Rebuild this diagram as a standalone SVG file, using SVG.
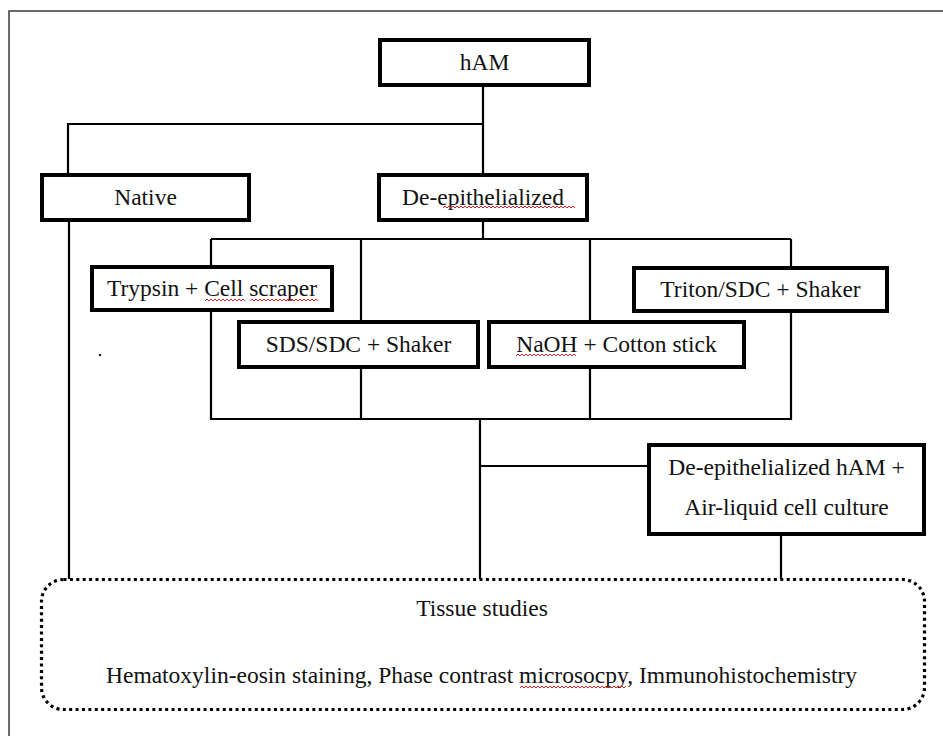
<svg xmlns="http://www.w3.org/2000/svg" width="943" height="736" viewBox="0 0 943 736">
<style>
.frame{fill:none;stroke:#3a3a3a;stroke-width:1.5}
.conn{fill:none;stroke:#000;stroke-width:2.2}
.box{fill:#fff;stroke:#000;stroke-width:4}
.dotted{fill:#fff;stroke:#000;stroke-width:3.2;stroke-dasharray:3 3.4}
.t{font-family:"Liberation Serif","Times New Roman",serif;font-size:23.5px;fill:#111;text-anchor:middle}
.sq{fill:none;stroke:#d42020;stroke-width:1}
</style>
<rect width="943" height="736" fill="#fff"/>
<path class="frame" d="M9,736 V11 H943"/>
<g id="connectors">
<path class="conn" d="M483,87 V175 M483,124 H68 V175 M69,222 V579"/>
<path class="conn" d="M483,222 V239 M211,239 H791 M211,239 V419 H791 V239 M361,239 V419 M590,239 V419"/>
<path class="conn" d="M480,419 V579 M480,466 H649 M781,536 V579"/>
</g>
<g id="hAM"><rect class="box" x="380" y="40" width="209" height="45"/><text class="t" x="484.5" y="70">hAM</text></g>
<g id="native"><rect class="box" x="42" y="175" width="207" height="45"/><text class="t" x="145.5" y="205">Native</text></g>
<g id="deepith"><rect class="box" x="379" y="175" width="208" height="45"/><text class="t" x="483" y="205">De-epithelialized</text>
<path class="sq" d="M443,208 l2,-2 l2,2 l2,-2 l2,2 l2,-2 l2,2 l2,-2 l2,2 l2,-2 l2,2 l2,-2 l2,2 l2,-2 l2,2 l2,-2 l2,2 l2,-2 l2,2 l2,-2 l2,2 l2,-2 l2,2 l2,-2 l2,2 l2,-2 l2,2 l2,-2 l2,2 l2,-2 l2,2 l2,-2 l2,2 l2,-2 l2,2 l2,-2 l2,2 l2,-2 l2,2 l2,-2 l2,2 l2,-2 l2,2 l2,-2 l2,2 l2,-2 l2,2 l2,-2 l2,2 l2,-2 l2,2 l2,-2 l2,2 l2,-2 l2,2 l2,-2 l2,2 l2,-2 l2,2 l2,-2 l2,2 l2,-2 l2,2 l2,-2 l2,2 l2,-2 l2,2"/></g>
<g id="trypsin"><rect class="box" x="92" y="267" width="240" height="43"/><text class="t" x="212" y="296">Trypsin + Cell scraper</text>
<path class="sq" d="M205,301 l2,-2 l2,2 l2,-2 l2,2 l2,-2 l2,2 l2,-2 l2,2 l2,-2 l2,2 l2,-2 l2,2 l2,-2 l2,2 l2,-2 l2,2 l2,-2 l2,2 l2,-2 l2,2 M250,301 l2,-2 l2,2 l2,-2 l2,2 l2,-2 l2,2 l2,-2 l2,2 l2,-2 l2,2 l2,-2 l2,2 l2,-2 l2,2 l2,-2 l2,2 l2,-2 l2,2 l2,-2 l2,2 l2,-2 l2,2 l2,-2 l2,2 l2,-2 l2,2 l2,-2 l2,2 l2,-2 l2,2 l2,-2 l2,2 l2,-2 l2,2"/></g>
<g id="triton"><rect class="box" x="634" y="268" width="253" height="43"/><text class="t" x="760.5" y="297">Triton/SDC + Shaker</text></g>
<g id="sds"><rect class="box" x="239" y="322" width="239" height="45"/><text class="t" x="358.5" y="352">SDS/SDC + Shaker</text></g>
<g id="naoh"><rect class="box" x="489" y="322" width="255" height="45"/><text class="t" x="616.5" y="352">NaOH + Cotton stick</text>
<path class="sq" d="M516,356 l2,-2 l2,2 l2,-2 l2,2 l2,-2 l2,2 l2,-2 l2,2 l2,-2 l2,2 l2,-2 l2,2 l2,-2 l2,2 l2,-2 l2,2 l2,-2 l2,2 l2,-2 l2,2 l2,-2 l2,2 l2,-2 l2,2 l2,-2 l2,2 l2,-2 l2,2 l2,-2 l2,2"/></g>
<g id="deham"><rect class="box" x="649" y="445" width="275" height="89"/><text class="t" x="786.5" y="475">De-epithelialized hAM +</text><text class="t" x="786.5" y="515">Air-liquid cell culture</text></g>
<g id="tissue"><rect class="dotted" x="41.5" y="579.5" width="883" height="130" rx="22"/><text class="t" x="482" y="616">Tissue studies</text><text class="t" x="481.5" y="683">Hematoxylin-eosin staining, Phase contrast microsocpy, Immunohistochemistry</text>
<path class="sq" d="M520,688 l2,-2 l2,2 l2,-2 l2,2 l2,-2 l2,2 l2,-2 l2,2 l2,-2 l2,2 l2,-2 l2,2 l2,-2 l2,2 l2,-2 l2,2 l2,-2 l2,2 l2,-2 l2,2 l2,-2 l2,2 l2,-2 l2,2 l2,-2 l2,2 l2,-2 l2,2 l2,-2 l2,2 l2,-2 l2,2 l2,-2 l2,2 l2,-2 l2,2 l2,-2 l2,2 l2,-2 l2,2 l2,-2 l2,2 l2,-2 l2,2 l2,-2 l2,2 l2,-2 l2,2 l2,-2 l2,2 l2,-2 l2,2 l2,-2"/></g>
<circle cx="100" cy="355" r="1.3" fill="#222"/>
</svg>
